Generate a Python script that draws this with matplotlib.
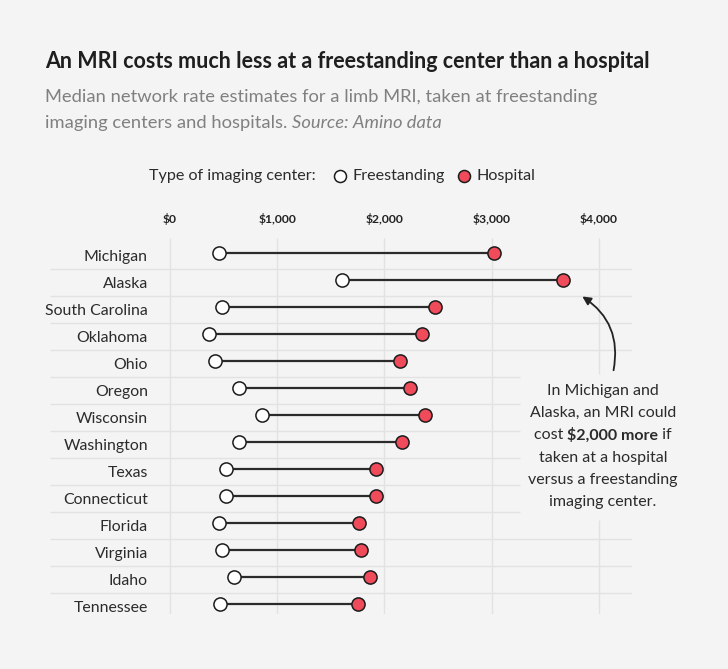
import matplotlib
matplotlib.use("Agg")
import matplotlib.pyplot as plt
from matplotlib.patches import FancyArrowPatch

plt.rcParams['font.family'] = ['Lato', 'DejaVu Sans']

# data (US dollars)
states = ["Michigan", "Alaska", "South Carolina", "Oklahoma", "Ohio", "Oregon",
          "Wisconsin", "Washington", "Texas", "Connecticut", "Florida",
          "Virginia", "Idaho", "Tennessee"]
freestanding = [460, 1605, 490, 360, 420, 645, 855, 645, 520, 520, 455, 490, 595, 465]
hospital = [3025, 3670, 2470, 2355, 2150, 2240, 2380, 2160, 1920, 1920, 1765, 1780, 1870, 1755]
ticks = [0, 1000, 2000, 3000, 4000]
tick_labels = ["$0", "$1,000", "$2,000", "$3,000", "$4,000"]

W, H = 728, 669
BG = "#f4f4f4"
RED = "#ef4b5b"
EDGE = "#1c1c1c"
DARK = "#2b2b2b"
GRID = "#e2e2e2"


def px(x, y):
    return x / W, 1 - y / H


fig = plt.figure(figsize=(W / 100, H / 100), dpi=100, facecolor=BG)

# axes spans the row-separator area: 50..632 px across, 238..614 px down
ax = fig.add_axes([50 / W, 1 - 614 / H, (632 - 50) / W, (614 - 238) / H])
ax.set_facecolor(BG)
ax.set_xlim(-1119, 4310)
ax.set_ylim(13.28, -0.65)
ax.axis("off")

n = len(states)
rows = list(range(n))

# vertical gridlines ($4,000 one is broken by the note)
for t, lab in zip(ticks, tick_labels):
    if t == 4000:
        ax.vlines(t, -0.65, 4.4, color=GRID, lw=1, zorder=0)
        ax.vlines(t, 9.8, 13.28, color=GRID, lw=1, zorder=0)
    else:
        ax.vlines(t, -0.65, 13.28, color=GRID, lw=1, zorder=0)
    ax.text(t, -1.35, lab, ha="center", va="center",
            fontsize=8.7, fontweight="bold", color="#222222", clip_on=False)

# row separators, shorter where the note sits
for i in range(n - 1):
    right = 3265 if 4 <= i <= 9 else 4310
    ax.hlines(i + 0.5, -1119, right, color=GRID, lw=1, zorder=0)

dot_y = [r - 0.1 for r in rows]
ax.hlines(dot_y, freestanding, hospital, color=DARK, lw=1.6, zorder=2)
ax.scatter(freestanding, dot_y, s=90, facecolor="white", edgecolor=EDGE, linewidth=1.1, zorder=3)
ax.scatter(hospital, dot_y, s=90, facecolor=RED, edgecolor=EDGE, linewidth=1.1, zorder=3)

for r, name in zip(rows, states):
    ax.text(-205, r + 0.05, name, ha="right", va="center", fontsize=11.4, color=DARK)

# title and subtitle
fig.text(*px(45, 62), "An MRI costs much less at a freestanding center than a hospital",
         fontsize=15.5, fontweight="bold", color="#1e1e1e", va="center")
fig.text(*px(45, 97), "Median network rate estimates for a limb MRI, taken at freestanding",
         fontsize=13.2, color="#808080", va="center")
t1 = fig.text(*px(45, 123), "imaging centers and hospitals. ",
              fontsize=13.2, color="#808080", va="center")

# legend row
fig.text(*px(149, 176), "Type of imaging center:", fontsize=11.6, color=DARK, va="center")
leg = fig.add_axes([0, 0, 1, 1], facecolor="none")
leg.set_xlim(0, W)
leg.set_ylim(H, 0)
leg.axis("off")
leg.scatter([340], [176], s=75, facecolor="white", edgecolor=EDGE, linewidth=1.1)
leg.scatter([464], [176], s=75, facecolor=RED, edgecolor=EDGE, linewidth=1.1)
fig.text(*px(352, 176), "Freestanding", fontsize=11.6, color=DARK, va="center")
fig.text(*px(477, 176), "Hospital", fontsize=11.6, color=DARK, va="center")

# note
note_lines = ["In Michigan and", "Alaska, an MRI could", None,
              "taken at a hospital", "versus a freestanding", "imaging center."]
for k, line in enumerate(note_lines):
    if line:
        fig.text(*px(603, 391 + 22.2 * k), line, fontsize=11.5, color=DARK,
                 ha="center", va="center")

fig.canvas.draw()
r = fig.canvas.get_renderer()
# italic source after subtitle line 2
bb = t1.get_window_extent(r)
fig.text(bb.x1 / W, 1 - 123 / H, "Source: Amino data", fontsize=13.2, color="#808080",
         style="italic", va="center")

# mixed-weight middle line of the note
parts = [("cost ", "normal"), (r"\$2,000 more", "bold"), (" if", "normal")]
objs = [fig.text(0, 1 - 435.4 / H, p, fontsize=11.5, color=DARK, fontweight=w, va="center")
        for p, w in parts]
widths = [o.get_window_extent(r).width for o in objs]
x = 603 - sum(widths) / 2
for o, wd in zip(objs, widths):
    o.set_x(x / W)
    x += wd

arrow = FancyArrowPatch(px(613, 373), px(580, 295), transform=fig.transFigure,
                        connectionstyle="arc3,rad=0.35", arrowstyle="-|>,head_length=5,head_width=2.5",
                        color="#222222", lw=1.3)
fig.patches.append(arrow)

fig.savefig("out.png", dpi=100, facecolor=BG)
